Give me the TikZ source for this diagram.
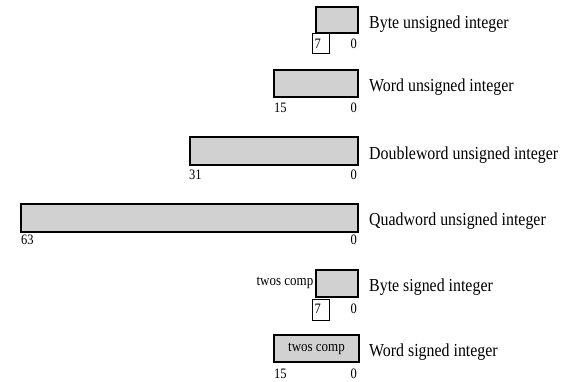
\documentclass[tikz,border=0pt]{standalone}
\usepackage{fontspec}
\setmainfont{Liberation Serif}
\newcommand\vstr[1]{\scalebox{1}[1.15]{#1}}
\tikzset{
  bx/.style={draw=black, line width=1.4pt, fill=black!18, inner sep=0pt, outer sep=0pt, anchor=north west},
  lbl/.style={anchor=base west, inner sep=0pt, font=\fontsize{15.9}{18}\selectfont},
  num/.style={inner sep=0pt, font=\fontsize{12.5}{14}\selectfont},
  tc/.style={inner sep=0pt, font=\fontsize{13}{14}\selectfont},
  sbox/.style={draw=black, line width=0.7pt, anchor=north west, inner sep=0pt, minimum width=17pt, minimum height=20pt}
}
\begin{document}
\begin{tikzpicture}[x=1pt,y=-1pt]
\useasboundingbox (0,0) rectangle (563,382);
% Byte unsigned
\node[bx, minimum width=42pt, minimum height=26pt] (b1) at (316,7) {};
\node[lbl] (l1) at (369,29) {\vstr{Byte unsigned integer}};
\node[sbox] (s1) at (312,33) {};
\node[num, anchor=base west] (s1t) at (314.5,49) {\vstr{7}};
\node[num, anchor=base east] (z1) at (357,49) {\vstr{0}};
% Word unsigned
\node[bx, minimum width=84pt, minimum height=27pt] (b2) at (274,70) {};
\node[lbl] (l2) at (369,92) {\vstr{Word unsigned integer}};
\node[num, anchor=base west] (h2) at (274,113) {\vstr{15}};
\node[num, anchor=base east] (z2) at (357,113) {\vstr{0}};
% Doubleword unsigned
\node[bx, minimum width=168pt, minimum height=28pt] (b3) at (190,137) {};
\node[lbl] (l3) at (369,160) {\vstr{Doubleword unsigned integer}};
\node[num, anchor=base west] (h3) at (189,180) {\vstr{31}};
\node[num, anchor=base east] (z3) at (357,180) {\vstr{0}};
% Quadword unsigned
\node[bx, minimum width=337pt, minimum height=28pt] (b4) at (21,204) {};
\node[lbl] (l4) at (369,226) {\vstr{Quadword unsigned integer}};
\node[num, anchor=base west] (h4) at (21,245) {\vstr{63}};
\node[num, anchor=base east] (z4) at (357,245) {\vstr{0}};
% Byte signed
\node[bx, minimum width=42pt, minimum height=27pt] (b5) at (316,270) {};
\node[tc, anchor=east] (t5) at (313.5,283) {\vstr{twos comp}};
\node[lbl] (l5) at (369,292) {\vstr{Byte signed integer}};
\node[sbox, minimum height=21pt] (s5) at (312,299) {};
\node[num, anchor=base west] (s5t) at (314.5,314) {\vstr{7}};
\node[num, anchor=base east] (z5) at (357,314) {\vstr{0}};
% Word signed
\node[bx, minimum width=85pt, minimum height=27pt] (b6) at (274,335) {};
\node[tc] (t6) at (b6.center) {\vstr{twos comp}};
\node[lbl] (l6) at (369,357) {\vstr{Word signed integer}};
\node[num, anchor=base west] (h6) at (274,379) {\vstr{15}};
\node[num, anchor=base east] (z6) at (357,379) {\vstr{0}};
\end{tikzpicture}
\end{document}
